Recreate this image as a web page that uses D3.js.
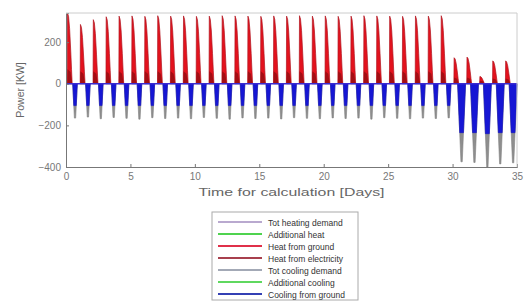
<!DOCTYPE html>
<html>
<head>
<meta charset="utf-8">
<script src="https://cdn.jsdelivr.net/npm/d3@7"></script>
<style>
  body { margin: 0; background: #fff; }
  svg text { font-family: "Liberation Sans", Arial, sans-serif; }
</style>
</head>
<body>
<div id="chart"></div>
<script>
// daily peaks (kW)
var heatTot = [340, 285, 308, 322, 325, 326, 324, 327, 325, 326, 324, 325, 327, 326, 325,
               324, 326, 325, 327, 325, 326, 324, 325, 327, 326, 325, 324, 326, 325, 327,
               125, 128, 35, 110, 110];
var heatElec = [70, 60, 60, 60, 60, 60, 60, 60, 60, 60, 60, 60, 60, 60, 60,
                60, 60, 60, 60, 60, 60, 60, 60, 60, 60, 60, 60, 60, 60, 60,
                30, 30, 15, 25, 25];
var coolTot = [-165, -160, -168, -162, -166, -170, -163, -167, -165, -168, -162, -166, -170, -164, -167,
               -165, -169, -163, -166, -168, -164, -167, -165, -170, -163, -166, -168, -165, -167, -164,
               -375, -378, -400, -385, -380];
var coolGround = [-105, -105, -105, -105, -105, -105, -105, -105, -105, -105, -105, -105, -105, -105, -105,
                  -105, -105, -105, -105, -105, -105, -105, -105, -105, -105, -105, -105, -105, -105, -105,
                  -235, -235, -240, -235, -235];
var xTicks = [0, 5, 10, 15, 20, 25, 30, 35];
var yTicks = [-400, -200, 0, 200];
var legendNames = ["Tot heating demand", "Additional heat", "Heat from ground", "Heat from electricity",
                   "Tot cooling demand", "Additional cooling", "Cooling from ground"];
var legendColors = ["#b9a9cf", "#4fd34f", "#e0304a", "#a8404e", "#a3a9b6", "#5fd85f", "#3440b4"];

var width = 524, height = 301;
var m = { left: 66, right: 7, top: 13, bottom: 134 };

var svg = d3.select('#chart').append('svg').attr('width', width).attr('height', height);

var x = d3.scaleLinear().domain([0, 35]).range([m.left, width - m.right]);
var y = d3.scaleLinear().domain([-400, 340]).range([height - m.bottom, m.top]);

var days = heatTot.map(function (d, i) { return i; });
var line = d3.line().x(function (p) { return x(p[0]); }).y(function (p) { return y(p[1]); });

// spike shapes for one day
function heatSpike(d0, v) {
  var s = d0 + 0.1;
  return [[s, 0], [s + 0.02, v], [s + 0.1, v * 0.95], [s + 0.18, v * 0.78], [s + 0.27, v * 0.45],
          [s + 0.33, v * 0.2], [s + 0.38, 0]];
}
function elecSpike(d0, v) {
  var s = d0 + 0.1;
  return [[s, 0], [s + 0.02, v], [s + 0.25, v * 0.8], [s + 0.38, 0]];
}
function coolSpike(d0, v, wide) {
  var w = wide ? 0.62 : 0.36;
  var c = d0 + 0.7;
  return [[c - w / 2, 0], [c - 0.05, v], [c + 0.05, v], [c + w / 2, 0]];
}

var plot = svg.append('g');

// heating
plot.selectAll('.htot').data(days).enter().append('path')
  .attr('d', function (i) { return line(heatSpike(i, heatTot[i])) + 'Z'; })
  .attr('fill', '#e3121d').attr('stroke', '#b0141e').attr('stroke-width', 0.7);
plot.selectAll('.helec').data(days).enter().append('path')
  .attr('d', function (i) { return line(elecSpike(i, heatElec[i])) + 'Z'; })
  .attr('fill', '#a30e14').attr('stroke', 'none');

// cooling
plot.selectAll('.ctot').data(days).enter().append('path')
  .attr('d', function (i) { return line(coolSpike(i, coolTot[i], coolTot[i] < -300)) + 'Z'; })
  .attr('fill', '#8e8e8e').attr('stroke', '#808080').attr('stroke-width', 0.6);
plot.selectAll('.cgr').data(days).enter().append('path')
  .attr('d', function (i) {
    var p = coolSpike(i, coolTot[i], coolTot[i] < -300);
    var f = coolGround[i] / coolTot[i];
    // upper part of the V, down to the ground share
    var a = p[0][0] + (p[1][0] - p[0][0]) * f, b = p[3][0] - (p[3][0] - p[2][0]) * f;
    return line([[p[0][0], 0], [a, coolGround[i]], [b, coolGround[i]], [p[3][0], 0]]) + 'Z';
  })
  .attr('fill', '#1616d4').attr('stroke', '#1212c0').attr('stroke-width', 0.6);

// zero line
plot.append('line')
  .attr('x1', x(0)).attr('x2', x(35)).attr('y1', y(0)).attr('y2', y(0))
  .attr('stroke', '#3a2ad0').attr('stroke-width', 1.5);

// axes
var gx = svg.append('g').attr('transform', 'translate(0,' + y(-400) + ')')
  .call(d3.axisBottom(x).tickValues(xTicks).tickSize(-3).tickPadding(6));
var gy = svg.append('g').attr('transform', 'translate(' + x(0) + ',0)')
  .call(d3.axisLeft(y).tickValues(yTicks).tickSize(-3).tickPadding(5));
[gx, gy].forEach(function (g) {
  g.select('.domain').attr('stroke', '#777');
  g.selectAll('.tick line').attr('stroke', '#777');
  g.selectAll('.tick text').attr('fill', '#777').style('font-size', '10px');
});
// top and right box edges
svg.append('path')
  .attr('d', 'M' + x(0) + ',' + y(340) + 'H' + x(35) + 'V' + y(-400))
  .attr('fill', 'none').attr('stroke', '#ccc').attr('stroke-width', 1);

svg.append('text')
  .attr('transform', 'translate(24,' + y(-30) + ') rotate(-90)')
  .attr('text-anchor', 'middle').attr('fill', '#666').style('font-size', '10.5px')
  .text('Power [KW]');
svg.append('text')
  .attr('x', x(17.5)).attr('y', 196)
  .attr('text-anchor', 'middle').attr('fill', '#666').style('font-size', '11px')
  .attr('textLength', 186).attr('lengthAdjust', 'spacingAndGlyphs')
  .text('Time for calculation [Days]');

// legend
var lg = svg.append('g').attr('transform', 'translate(212,212)');
lg.append('rect').attr('width', 146).attr('height', 88)
  .attr('fill', '#fff').attr('stroke', '#aaa').attr('stroke-width', 1);
var items = lg.selectAll('.item').data(legendNames).enter().append('g')
  .attr('transform', function (d, i) { return 'translate(0,' + (10 + i * 12) + ')'; });
items.append('line').attr('x1', 6).attr('x2', 50).attr('y1', 0).attr('y2', 0)
  .attr('stroke', function (d, i) { return legendColors[i]; }).attr('stroke-width', 2);
items.append('text').attr('x', 56).attr('y', 3.5)
  .attr('fill', '#333').style('font-size', '8.5px')
  .text(function (d) { return d; });
</script>
</body>
</html>
